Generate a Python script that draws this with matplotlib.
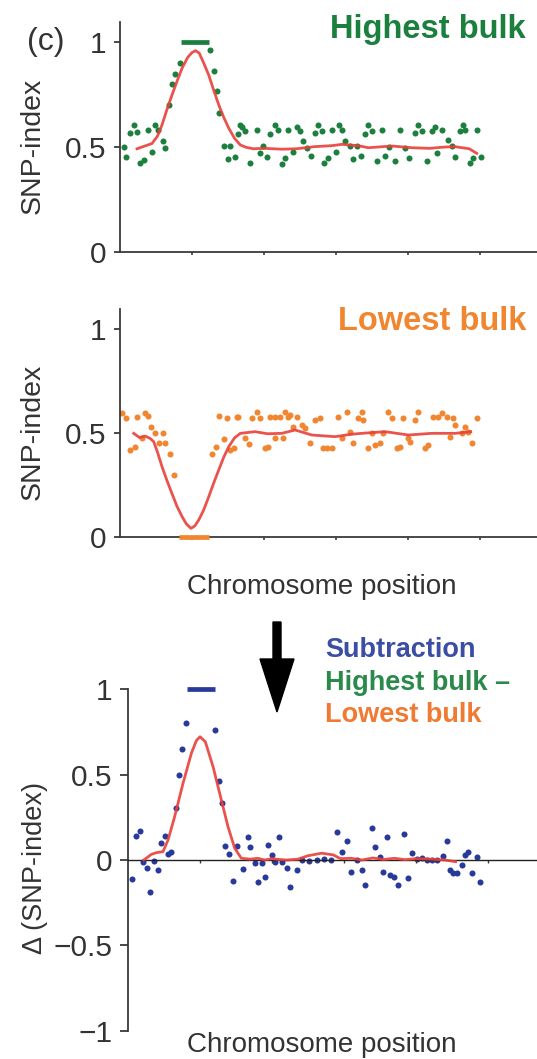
import matplotlib
matplotlib.use('Agg')
import matplotlib.pyplot as plt
from matplotlib.patches import FancyArrow

plt.rcParams['font.family'] = ['Liberation Sans', 'DejaVu Sans']

W, H = 537, 1059

# ---- highest bulk (green) ----
hi_pos = [0.051, 0.088, 0.143, 0.19, 0.236, 0.282, 0.338, 0.389, 0.444, 0.49,
          0.524, 0.593, 0.629, 0.685, 0.722, 0.768, 0.829, 1.246, 1.301, 1.347,
          1.371, 1.44, 1.496, 1.532, 1.601, 1.639, 1.671, 1.69, 1.736, 1.806,
          1.899, 1.944, 1.99, 2.038, 2.083, 2.153, 2.199, 2.246, 2.292, 2.338,
          2.407, 2.454, 2.5, 2.546, 2.593, 2.653, 2.708, 2.754, 2.801, 2.838,
          2.885, 2.949, 2.996, 3.042, 3.088, 3.125, 3.194, 3.24, 3.288, 3.347,
          3.403, 3.449, 3.496, 3.565, 3.635, 3.681, 3.736, 3.819, 3.889, 3.958,
          4.014, 4.097, 4.143, 4.19, 4.26, 4.329, 4.375, 4.399, 4.468, 4.551,
          4.607, 4.653, 4.722, 4.768, 4.792, 4.861, 4.907, 4.954, 5.01]
hi_snp = [0.50, 0.449, 0.565, 0.605, 0.570, 0.422, 0.438, 0.581, 0.473, 0.605,
          0.581, 0.529, 0.494, 0.70, 0.799, 0.846, 0.899, 0.962, 0.859, 0.763,
          0.66, 0.501, 0.441, 0.501, 0.449, 0.560, 0.605, 0.592, 0.573, 0.422,
          0.581, 0.47, 0.501, 0.449, 0.560, 0.605, 0.581, 0.418, 0.446, 0.581,
          0.475, 0.592, 0.573, 0.525, 0.494, 0.454, 0.565, 0.601, 0.576, 0.422,
          0.446, 0.581, 0.475, 0.601, 0.581, 0.529, 0.501, 0.441, 0.501, 0.454,
          0.560, 0.601, 0.576, 0.43, 0.581, 0.454, 0.497, 0.43, 0.581, 0.494,
          0.446, 0.565, 0.601, 0.576, 0.43, 0.576, 0.592, 0.47, 0.581, 0.533,
          0.501, 0.449, 0.573, 0.601, 0.581, 0.422, 0.446, 0.581, 0.45]
hi_fit_pos = [0.236, 0.32, 0.444, 0.52, 0.583, 0.65, 0.722, 0.79, 0.861, 0.94,
              1.0, 1.05, 1.10, 1.16, 1.232, 1.30, 1.371, 1.44, 1.51, 1.59,
              1.671, 1.75, 1.85, 2.0, 2.25, 2.45, 2.7, 2.95, 3.08, 3.3, 3.45,
              3.65, 3.78, 4.05, 4.3, 4.5, 4.65, 4.85, 4.954]
hi_fit = [0.49, 0.50, 0.515, 0.55, 0.603, 0.675, 0.746, 0.81, 0.873, 0.925,
          0.948, 0.957, 0.945, 0.90, 0.841, 0.77, 0.699, 0.64, 0.588, 0.54,
          0.508, 0.497, 0.49, 0.492, 0.488, 0.49, 0.50, 0.505, 0.511, 0.505, 0.495,
          0.50, 0.503, 0.495, 0.492, 0.498, 0.50, 0.49, 0.468]
hi_qtl = [0.85, 1.23]

# ---- lowest bulk (orange) ----
lo_pos = [0.028, 0.083, 0.143, 0.204, 0.236, 0.306, 0.343, 0.389, 0.435, 0.49,
          0.538, 0.593, 0.629, 0.699, 0.746, 1.278, 1.333, 1.379, 1.44, 1.486,
          1.532, 1.579, 1.625, 1.643, 1.736, 1.792, 1.829, 1.899, 1.944, 2.014,
          2.06, 2.083, 2.153, 2.153, 2.222, 2.268, 2.292, 2.338, 2.361, 2.407,
          2.454, 2.524, 2.569, 2.639, 2.708, 2.778, 2.824, 2.871, 2.94, 3.032,
          3.088, 3.149, 3.194, 3.24, 3.31, 3.357, 3.379, 3.449, 3.496, 3.542,
          3.611, 3.657, 3.726, 3.774, 3.843, 3.889, 3.935, 4.004, 4.028, 4.097,
          4.143, 4.236, 4.282, 4.351, 4.421, 4.468, 4.538, 4.583, 4.629, 4.653,
          4.746, 4.792, 4.838, 4.885, 4.954]
lo_snp = [0.596, 0.572, 0.42, 0.436, 0.58, 0.476, 0.599, 0.583, 0.532, 0.5,
          0.452, 0.5, 0.452, 0.40, 0.30, 0.40, 0.433, 0.583, 0.471, 0.572,
          0.42, 0.428, 0.58, 0.58, 0.476, 0.447, 0.572, 0.604, 0.572, 0.428,
          0.436, 0.58, 0.58, 0.476, 0.58, 0.476, 0.604, 0.58, 0.59, 0.532,
          0.58, 0.54, 0.524, 0.452, 0.564, 0.572, 0.428, 0.428, 0.428, 0.58,
          0.476, 0.604, 0.508, 0.452, 0.572, 0.604, 0.564, 0.428, 0.5, 0.444,
          0.452, 0.5, 0.604, 0.572, 0.428, 0.436, 0.572, 0.476, 0.46, 0.564,
          0.604, 0.428, 0.444, 0.58, 0.58, 0.596, 0.58, 0.484, 0.572, 0.54,
          0.5, 0.532, 0.508, 0.452, 0.572]
lo_fit_pos = [0.19, 0.27, 0.35, 0.42, 0.468, 0.52, 0.583, 0.65, 0.722, 0.79,
              0.861, 0.92, 0.986, 1.04, 1.093, 1.16, 1.232, 1.30, 1.371, 1.44,
              1.51, 1.59, 1.671, 1.875, 2.05, 2.246, 2.431, 2.663, 2.986, 3.2,
              3.357, 3.681, 4.004, 4.329, 4.653, 4.87]
lo_fit = [0.50, 0.48, 0.487, 0.475, 0.46, 0.41, 0.34, 0.275, 0.21, 0.15,
          0.10, 0.065, 0.043, 0.055, 0.083, 0.13, 0.195, 0.26, 0.324, 0.385,
          0.436, 0.478, 0.50, 0.508, 0.498, 0.50, 0.516, 0.492, 0.484, 0.495,
          0.50, 0.508, 0.492, 0.50, 0.50, 0.508]
lo_qtl = [0.815, 1.23]

# ---- delta SNP-index (blue) ----
d_pos = [0.056, 0.116, 0.162, 0.208, 0.269, 0.30, 0.361, 0.417, 0.454, 0.509,
         0.556, 0.602, 0.662, 0.708, 0.755, 0.81, 1.204, 1.259, 1.31, 1.352,
         1.398, 1.458, 1.518, 1.60, 1.662, 1.694, 1.764, 1.801, 1.856, 1.903,
         1.949, 2.005, 2.042, 2.097, 2.134, 2.204, 2.25, 2.343, 2.42, 2.52,
         2.62, 2.72, 2.82, 2.898, 2.968, 3.037, 3.097, 3.176, 3.246, 3.292,
         3.384, 3.431, 3.5, 3.546, 3.593, 3.639, 3.699, 3.755, 3.838, 3.884,
         3.94, 4.009, 4.079, 4.148, 4.218, 4.287, 4.38, 4.426, 4.472, 4.518,
         4.565, 4.634, 4.681, 4.726, 4.782, 4.843, 4.889]
d_val = [-0.113, 0.142, 0.172, -0.01, -0.049, -0.19, -0.004, -0.059, 0.101, 0.142,
         0.033, 0.049, 0.303, 0.498, 0.648, 0.80, 0.762, 0.463, 0.332, 0.084,
         0.033, -0.123, 0.082, -0.05, 0.137, 0.074, -0.02, -0.127, -0.02, -0.098,
         0.088, 0.029, -0.01, 0.137, -0.01, -0.049, -0.156, -0.059, 0.0, -0.005,
         0.0, 0.005, 0.0, 0.166, 0.049, 0.113, -0.068, 0.0, -0.059, -0.146,
         0.186, 0.074, 0.02, -0.068, 0.133, -0.088, -0.102, -0.146, 0.152, -0.107,
         0.039, 0.004, 0.01, 0.0, 0.0, 0.0, 0.023, 0.113, -0.059, -0.074,
         -0.074, -0.029, 0.029, 0.049, -0.074, 0.02, -0.127]
d_fit_pos = [0.22, 0.324, 0.394, 0.486, 0.556, 0.648, 0.764, 0.88, 0.95, 1.0,
             1.074, 1.181, 1.273, 1.389, 1.482, 1.574, 1.7, 1.8, 1.9, 2.0, 2.1,
             2.2, 2.36, 2.5, 2.69, 2.85, 2.95, 3.1, 3.25, 3.4, 3.55, 3.7, 3.85,
             4.0, 4.2, 4.4, 4.55]
d_fit = [0.0, 0.033, 0.043, 0.049, 0.117, 0.254, 0.449, 0.625, 0.70, 0.722,
         0.693, 0.547, 0.391, 0.195, 0.069, 0.01, 0.005, 0.01, 0.0, 0.008, 0.003,
         0.0, 0.005, 0.025, 0.04, 0.03, 0.008, 0.01, 0.0, 0.012, 0.003, 0.01,
         0.002, 0.008, 0.005, 0.0, -0.01]
d_qtl = [0.824, 1.204]

GREEN = '#1b7f3e'
ORANGE = '#f08630'
BLUE = '#27399a'
RED = '#e8403a'
AXC = '#3a3a3a'
TXT = '#333333'


def px(x, y):
    return x / W, 1 - y / H


def style_axis(ax):
    ax.spines[['top', 'right']].set_visible(False)
    for s in ['left', 'bottom']:
        ax.spines[s].set_color(AXC)
        ax.spines[s].set_linewidth(1.3)
    ax.tick_params(axis='y', colors=AXC, length=4, width=1.3, pad=6,
                   labelsize=21.5, labelcolor=TXT)
    ax.tick_params(axis='x', colors=AXC, length=2.5, width=1.2, labelbottom=False)
    ax.set_xticks([1, 2, 3, 4, 5])
    ax.set_xlim(0, 5.79)
    ax.patch.set_alpha(0)


fig = plt.figure(figsize=(W / 100, H / 100), dpi=100)

# top panel
ax1 = fig.add_axes([120 / W, 1 - 251.7 / H, 417 / W, 229.4 / H])
style_axis(ax1)
ax1.set_ylim(0, 1.092)
ax1.set_yticks([0, 0.5, 1])
ax1.set_yticklabels(['0', '0.5', '1'])
ax1.scatter(hi_pos, hi_snp, s=19, color=GREEN, lw=0, zorder=2)
ax1.plot(hi_fit_pos, hi_fit, color=RED, lw=2.0, alpha=0.9, zorder=3)
ax1.plot(hi_qtl, [1.0, 1.0], color=GREEN, lw=3.4, solid_capstyle='butt', clip_on=False)

# middle panel
ax2 = fig.add_axes([120 / W, 1 - 537.3 / H, 417 / W, 228.3 / H])
style_axis(ax2)
ax2.set_ylim(0, 1.098)
ax2.set_yticks([0, 0.5, 1])
ax2.set_yticklabels(['0', '0.5', '1'])
ax2.scatter(lo_pos, lo_snp, s=19, color=ORANGE, lw=0, zorder=2)
ax2.plot(lo_fit_pos, lo_fit, color=RED, lw=2.0, alpha=0.9, zorder=3)
ax2.plot(lo_qtl, [0.0, 0.0], color=ORANGE, lw=3.4, solid_capstyle='butt',
         clip_on=False, zorder=4)

# bottom panel
ax3 = fig.add_axes([128 / W, 1 - 1030.7 / H, 409 / W, 341.4 / H])
style_axis(ax3)
ax3.set_xlim(0, 409 / 72)
ax3.set_ylim(-1, 1)
ax3.spines['bottom'].set_position(('data', 0))
ax3.spines['bottom'].set_linewidth(1.0)
ax3.spines['bottom'].set_color('#222222')
ax3.tick_params(axis='x', length=2, width=1.0)
ax3.set_yticks([-1, -0.5, 0, 0.5, 1])
ax3.set_yticklabels(['\u22121', '\u22120.5', '0', '0.5', '1'])
ax3.tick_params(axis='y', length=6, pad=5)
ax3.scatter(d_pos, d_val, s=19, color=BLUE, lw=0, zorder=2, clip_on=False)
ax3.plot(d_fit_pos, d_fit, color=RED, lw=2.0, alpha=0.9, zorder=3)
ax3.plot(d_qtl, [1.0, 1.0], color=BLUE, lw=3.4, solid_capstyle='butt', clip_on=False)

# labels
fig.text(*px(46, 42), '(c)', fontsize=23, color=TXT, ha='center', va='center')
fig.text(*px(526, 37.7), 'Highest bulk', fontsize=23.5, color=GREEN,
         fontweight='bold', ha='right', va='baseline')
fig.text(*px(526, 329.7), 'Lowest bulk', fontsize=23.5, color=ORANGE,
         fontweight='bold', ha='right', va='baseline')
fig.text(*px(32.5, 145.5), 'SNP-index', fontsize=20.5, color=TXT, rotation=90,
         ha='center', va='center')
fig.text(*px(32.5, 431.5), 'SNP-index', fontsize=20.5, color=TXT, rotation=90,
         ha='center', va='center')
fig.text(*px(35, 868), '\u0394 (SNP-index)', fontsize=19.5, color=TXT, rotation=90,
         ha='center', va='center')
fig.text(*px(322, 587), 'Chromosome position', fontsize=20, color=TXT,
         ha='center', va='center')
fig.text(*px(322, 1045), 'Chromosome position', fontsize=20, color=TXT,
         ha='center', va='center')

fig.text(*px(325, 650), 'Subtraction', fontsize=19.5, color='#3b4ea3',
         fontweight='bold', ha='left', va='center')
fig.text(*px(325, 683), 'Highest bulk \u2013', fontsize=19.5, color='#2a8a4a',
         fontweight='bold', ha='left', va='center')
fig.text(*px(325, 715), 'Lowest bulk', fontsize=19.5, color='#f07a32',
         fontweight='bold', ha='left', va='center')

# arrow
x0, y0 = px(277, 622)
_, y1 = px(277, 712)
arrow = FancyArrow(x0, y0, 0, y1 - y0, width=8 / W, head_width=34 / W,
                   head_length=53 / H, length_includes_head=True,
                   color='black', transform=fig.transFigure)
fig.patches.append(arrow)

fig.savefig('out.png', dpi=100)
